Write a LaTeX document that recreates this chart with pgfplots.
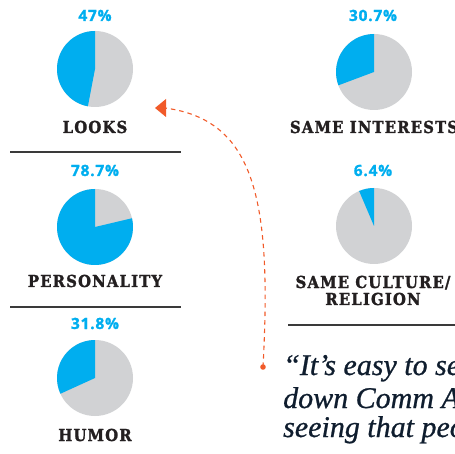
\documentclass[border=0pt]{standalone}
\usepackage{pgfplots}
\pgfplotsset{compat=1.18}
\usepackage{fontspec}
\setmainfont{Liberation Serif}
\newfontfamily\pctfont[LetterSpace=5,FakeBold=1.2]{Open Sans Bold}
\newfontfamily\catfont[LetterSpace=7,FakeBold=1.6]{DejaVu Serif Condensed Bold}
\newfontfamily\quotefont[FakeBold=0.8]{Liberation Serif Italic}
\definecolor{pieblue}{HTML}{00AEEF}
\definecolor{piegray}{HTML}{D1D2D4}
\definecolor{catdark}{HTML}{231F20}
\definecolor{rulegray}{HTML}{3A3A3A}
\definecolor{arroworange}{HTML}{F15A29}
\definecolor{quotenavy}{HTML}{0F1D2E}
% pie: center x, center y (image coords), percent
\newcommand{\pie}[3]{%
  \fill[piegray] (axis cs:#1,#2) circle[radius=38pt];
  \fill[pieblue] (axis cs:#1,#2) -- ++(90:38pt) arc[start angle=90, delta angle={3.6*#3}, radius=38pt] -- cycle;
}
\tikzset{pct/.style={anchor=base, text=pieblue, font=\pctfont\fontsize{15.5}{18}\selectfont},
  cat/.style={anchor=base, text=catdark, font=\catfont\fontsize{16.5}{18}\selectfont},
  quote/.style={anchor=base west, text=quotenavy, font=\quotefont\fontsize{30}{31}\selectfont, inner sep=0pt}}
\begin{document}
\begin{tikzpicture}
\begin{axis}[
  at={(0,0)}, anchor=south west,
  width=455pt, height=454pt, scale only axis,
  xmin=0, xmax=455, ymin=0, ymax=454, y dir=reverse,
  axis lines=none, clip=false,
]
% pies (percent values)
\pie{95}{69}{47}
\pie{374}{72}{30.7}
\pie{95}{227}{78.7}
\pie{374}{226}{6.4}
\pie{95}{378}{31.8}
% percentages
\node[pct] at (axis cs:95,21) {47\%};
\node[pct] at (axis cs:373,21) {30.7\%};
\node[pct] at (axis cs:95,176) {78.7\%};
\node[pct] at (axis cs:373,176) {6.4\%};
\node[pct] at (axis cs:95,329) {31.8\%};
% categories
\node[cat] at (axis cs:95,133) {LOOKS};
\node[cat] at (axis cs:374,133) {SAME INTERESTS};
\node[cat] at (axis cs:95,287) {PERSONALITY};
\node[cat] at (axis cs:373,288) {SAME CULTURE/};
\node[cat] at (axis cs:373,305) {RELIGION};
\node[cat] at (axis cs:95,441) {HUMOR};
% rules
\draw[rulegray, line width=1.3pt] (axis cs:10,152) -- (axis cs:181,152);
\draw[rulegray, line width=1.3pt] (axis cs:10,307) -- (axis cs:181,307);
\draw[rulegray, line width=1.3pt] (axis cs:288,325) -- (axis cs:460,325);
% dashed arrow
\draw[arroworange, line width=1.1pt, dash pattern=on 4.5pt off 4pt]
  (axis cs:263,367) .. controls (axis cs:272,200) and (axis cs:255,120) .. (axis cs:165,108);
\fill[arroworange] (axis cs:155,108) -- (axis cs:166,99) -- (axis cs:166,117) -- cycle;
\fill[arroworange] (axis cs:263,367) circle[radius=2.8pt];
% quote
\node[quote] at (axis cs:283,375) {“It’s easy to see};
\node[quote] at (axis cs:283,408) {down Comm Ave};
\node[quote] at (axis cs:283,437) {seeing that people};
\end{axis}
\pgfresetboundingbox
\path[use as bounding box] (0,0) rectangle (455pt,454pt);
\end{tikzpicture}
\end{document}
